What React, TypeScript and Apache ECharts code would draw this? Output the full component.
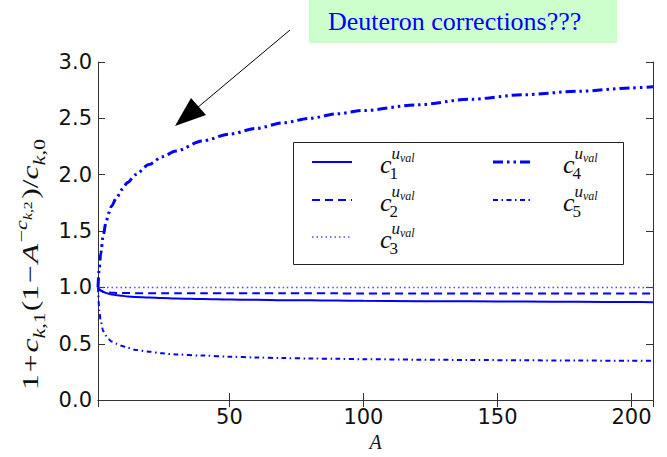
import React, { useEffect, useRef } from 'react';
import * as echarts from 'echarts';

// ---- data ----
const A_VALUES = [1, 1.5, 2, 3, 4, 5, 6, 8, 10, 12, 15, 20, 25, 30, 40, 50, 60, 70, 80, 90, 100, 120, 140, 160, 180, 200, 208];
const C1_VALUES = [1.0, 0.985, 0.975, 0.96, 0.95, 0.943, 0.938, 0.93, 0.925, 0.92, 0.915, 0.91, 0.905, 0.902, 0.897, 0.893, 0.89, 0.887, 0.885, 0.883, 0.881, 0.878, 0.876, 0.874, 0.872, 0.87, 0.869];
const C2_VALUES = [1.0, 0.98, 0.97, 0.962, 0.958, 0.955, 0.953, 0.951, 0.95, 0.95, 0.949, 0.949, 0.948, 0.948, 0.948, 0.947, 0.947, 0.947, 0.947, 0.947, 0.946, 0.946, 0.946, 0.946, 0.946, 0.946, 0.946];
const C3_VALUES = [1.0, 1.0, 1.0, 1.0, 1.0, 1.0, 1.0, 1.0, 1.0, 1.0, 1.0, 1.0, 1.0, 1.0, 1.0, 1.0, 1.0, 1.0, 1.0, 1.0, 1.0, 1.0, 1.0, 1.0, 1.0, 1.0, 1.0];
const C4_VALUES = [1.0, 1.18, 1.30, 1.47, 1.58, 1.66, 1.72, 1.80, 1.87, 1.93, 2.00, 2.09, 2.16, 2.21, 2.30, 2.36, 2.41, 2.46, 2.50, 2.54, 2.57, 2.62, 2.67, 2.71, 2.74, 2.77, 2.78];
const C5_VALUES = [1.0, 0.80, 0.70, 0.61, 0.57, 0.54, 0.52, 0.50, 0.48, 0.465, 0.445, 0.43, 0.415, 0.405, 0.395, 0.385, 0.378, 0.373, 0.369, 0.366, 0.363, 0.359, 0.356, 0.353, 0.351, 0.349, 0.348];
const SERIES_INDEX = ['1', '2', '3', '4', '5'];
const X_TICK_LABELS = [50, 100, 150, 200];
const X_MIN = 1;
const X_MAX = 208;
const Y_MIN = 0;
const Y_MAX = 3;
const Y_STEP = 0.5;
const TITLE_TEXT = 'Deuteron corrections???';
const X_NAME = 'A';

const SERIES_VALUES = [C1_VALUES, C2_VALUES, C3_VALUES, C4_VALUES, C5_VALUES];

const BLUE = '#0000ff';
const SERIES_STYLES = [
  { color: BLUE, width: 2, dash: 'solid' as any },
  { color: BLUE, width: 2, dash: [8, 5] },
  { color: '#4a4aff', width: 1.5, dash: [1.5, 3] },
  { color: BLUE, width: 3, dash: [10, 4, 2.5, 4, 2.5, 4] },
  { color: BLUE, width: 2, dash: [5, 3.5, 1.5, 3.5] },
];

const SERIF = '"Liberation Serif", "Times New Roman", serif';
const SANS = '"DejaVu Sans", sans-serif';

export default function App() {
  const ref = useRef<HTMLDivElement>(null);

  useEffect(() => {
    document.body.style.margin = '0';
    const chart = echarts.init(ref.current!, undefined, { renderer: 'svg' });

    const canvas = document.createElement('canvas');
    const ctx = canvas.getContext('2d')!;
    const fontOf = (size: number, italic: boolean) => `${italic ? 'italic ' : ''}${size}px ${SERIF}`;
    const measure = (t: string, size: number, italic: boolean) => {
      ctx.font = fontOf(size, italic);
      return ctx.measureText(t).width;
    };
    const textEl = (t: string, x: number, baseline: number, size: number, italic: boolean, fill = '#111') => ({
      type: 'text',
      x,
      y: baseline - 0.34 * size,
      silent: true,
      style: { text: t, font: fontOf(size, italic), fill, textAlign: 'left', textVerticalAlign: 'middle' },
    });

    // ---- y-axis math label ----
    const S = 24, S1 = S * 0.7, S2 = S * 0.5;
    const SUB = 0.28 * S, SUP = -0.45 * S;
    const yPieces: any[] = [
      { t: '1', s: S, dy: 0 },
      { t: '+', s: S, dy: 0, pre: 0.06 * S, post: 0.06 * S },
      { t: 'c', s: S, it: true, dy: 0 },
      { t: 'k', s: S1, it: true, dy: SUB },
      { t: ',1', s: S1, dy: SUB },
      { t: '(1', s: S, dy: 0, pre: 0.03 * S },
      { t: '\u2212', s: S, dy: 0, pre: 0.06 * S, post: 0.06 * S },
      { t: 'A', s: S, it: true, dy: 0 },
      { t: '\u2212', s: S1, dy: SUP, pre: 0.05 * S },
      { t: 'c', s: S1, it: true, dy: SUP },
      { t: 'k', s: S2, it: true, dy: SUP + 0.18 * S },
      { t: ',2', s: S2, dy: SUP + 0.18 * S },
      { t: ')', s: S, dy: 0, pre: 0.08 * S },
      { t: '/', s: S, dy: 0 },
      { t: 'c', s: S, it: true, dy: 0 },
      { t: 'k', s: S1, it: true, dy: SUB },
      { t: ',0', s: S1, dy: SUB },
    ];
    let cx = 0;
    const yChildren: any[] = [];
    for (const p of yPieces) {
      cx += p.pre || 0;
      yChildren.push(textEl(p.t, cx, p.dy, p.s, !!p.it));
      cx += measure(p.t, p.s, !!p.it) + (p.post || 0);
    }
    const Y_LABEL_LEN = 251;

    // ---- legend (drawn as graphic) ----
    const rows = [162, 200, 237];
    const legendPos = [
      { lineX: 312, labelX: 380, row: 0 },
      { lineX: 312, labelX: 380, row: 1 },
      { lineX: 312, labelX: 380, row: 2 },
      { lineX: 493, labelX: 563, row: 0 },
      { lineX: 493, labelX: 563, row: 1 },
    ];
    const legendEls: any[] = [
      {
        type: 'rect',
        shape: { x: 293.5, y: 142.5, width: 330, height: 122 },
        style: { fill: '#fff', stroke: '#222', lineWidth: 1 },
        z: 10,
      },
    ];
    const CS = 26, SS = 17, VS = 12;
    SERIES_INDEX.forEach((idx, i) => {
      const p = legendPos[i];
      const ry = rows[p.row];
      const st = SERIES_STYLES[i];
      legendEls.push({
        type: 'line',
        z: 11,
        shape: { x1: p.lineX, y1: ry, x2: p.lineX + 40, y2: ry },
        style: { stroke: st.color, lineWidth: st.width, lineDash: Array.isArray(st.dash) ? st.dash : null },
      });
      const wc = measure('c', CS, true);
      const wu = measure('u', SS, true);
      const els = [
        textEl('c', p.labelX, ry + 11, CS, true),
        textEl(idx, p.labelX + wc - 2, ry + 17, SS, false),
        textEl('u', p.labelX + wc, ry - 3, SS, true),
        textEl('val', p.labelX + wc + wu, ry, VS, true),
      ];
      els.forEach((e: any) => { e.z = 11; legendEls.push(e); });
    });

    const axisCommon = {
      axisLine: { show: true, lineStyle: { color: '#333', width: 1 } },
      axisTick: { show: true, inside: true, length: 7, lineStyle: { color: '#333' } },
      splitLine: { show: false },
    };

    const option: any = {
      animation: false,
      backgroundColor: '#fff',
      grid: { left: 98, right: 14, top: 62, bottom: 50, containLabel: false },
      xAxis: [
        {
          type: 'value',
          position: 'bottom',
          min: X_MIN,
          max: X_MAX,
          splitNumber: 4,
          minInterval: 50,
          maxInterval: 50,
          name: X_NAME,
          nameLocation: 'middle',
          nameGap: 29,
          nameTextStyle: { fontFamily: SERIF, fontStyle: 'italic', fontSize: 20, color: '#111' },
          ...axisCommon,
          axisLabel: {
            show: true,
            margin: 6,
            fontFamily: SANS,
            fontSize: 21,
            color: '#111',
            showMinLabel: false,
            showMaxLabel: false,
            formatter: (v: number) => (X_TICK_LABELS.indexOf(v) >= 0 ? String(v) : ''),
          },
        },
        {
          type: 'value',
          position: 'top',
          min: X_MIN,
          max: X_MAX,
          splitNumber: 4,
          minInterval: 50,
          maxInterval: 50,
          ...axisCommon,
          axisLabel: { show: false },
        },
      ],
      yAxis: [
        {
          type: 'value',
          position: 'left',
          min: Y_MIN,
          max: Y_MAX,
          interval: Y_STEP,
          ...axisCommon,
          axisLabel: {
            show: true,
            margin: 6,
            fontFamily: SANS,
            fontSize: 21,
            color: '#111',
            formatter: (v: number) => v.toFixed(1),
          },
        },
        {
          type: 'value',
          position: 'right',
          min: Y_MIN,
          max: Y_MAX,
          interval: Y_STEP,
          ...axisCommon,
          axisLabel: { show: false },
        },
      ],
      series: SERIES_VALUES.map((vals, i) => ({
        name: 'c' + SERIES_INDEX[i],
        type: 'line',
        xAxisIndex: 0,
        yAxisIndex: 0,
        showSymbol: false,
        symbol: 'none',
        smooth: 0.3,
        smoothMonotone: 'x',
        clip: true,
        lineStyle: { color: SERIES_STYLES[i].color, width: SERIES_STYLES[i].width, type: SERIES_STYLES[i].dash },
        data: A_VALUES.map((a, j) => [a, vals[j]]),
      })),
      graphic: [
        { type: 'rect', shape: { x: 309, y: 0, width: 308, height: 43 }, style: { fill: '#ccffcc' }, z: 5 },
        {
          type: 'text',
          x: 328,
          y: 21,
          z: 6,
          style: { text: TITLE_TEXT, font: `26px ${SERIF}`, fill: BLUE, textAlign: 'left', textVerticalAlign: 'middle' },
        },
        { type: 'line', z: 6, shape: { x1: 290, y1: 30, x2: 197, y2: 108 }, style: { stroke: '#000', lineWidth: 1 } },
        {
          type: 'polygon',
          z: 6,
          shape: { points: [[175, 126], [191, 98], [206, 115]] },
          style: { fill: '#000' },
        },
        {
          type: 'group',
          x: 38,
          y: 390,
          rotation: Math.PI / 2,
          scaleX: Y_LABEL_LEN / cx,
          scaleY: 1,
          children: yChildren,
        },
        ...legendEls,
      ],
    };
    chart.setOption(option);
    return () => chart.dispose();
  }, []);

  return <div ref={ref} style={{ width: 667, height: 457 }} />;
}
